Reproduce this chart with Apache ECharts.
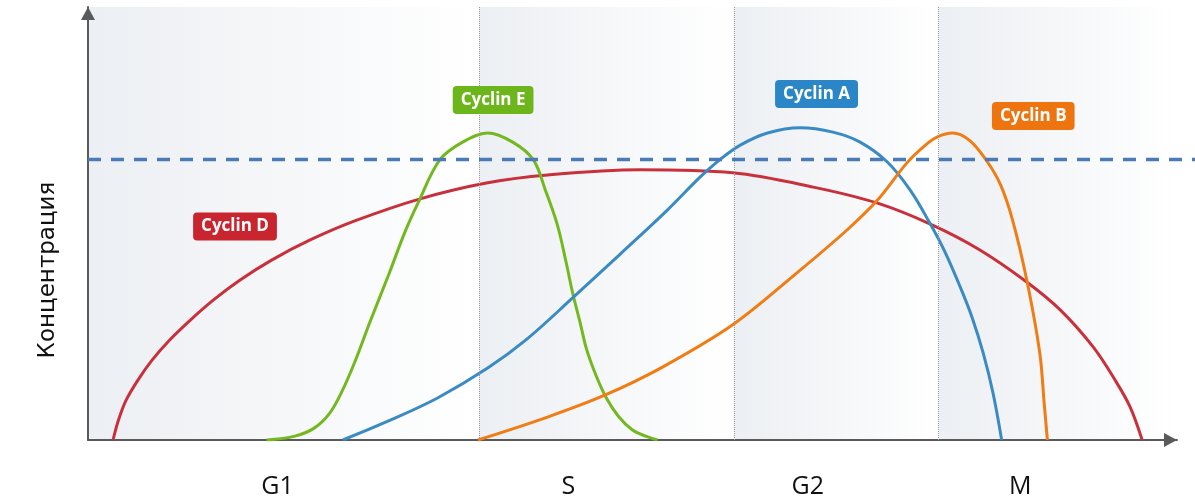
<!DOCTYPE html>
<html><head><meta charset="utf-8">
<script src="https://cdn.jsdelivr.net/npm/echarts@6/dist/echarts.min.js"></script>
<style>html,body{margin:0;padding:0;background:#fff}#c{width:1195px;height:501px}</style>
</head><body><div id="c"></div>
<script>
// Cell-cycle phases (x in % of cycle), label positions
const phaseNames = ['G1', 'S', 'G2', 'M'];
const phaseLabelX = [17.4, 44.1, 66.1, 85.6];
const phaseBounds = [0, 35.9, 59.3, 78.1, 100];
const threshold = 64.8;

// Concentration curves [x, y]
const cyclinD = [[2.3,0],[2.8,4.6],[3.5,9.2],[4.6,13.9],[5.9,18.5],[7.5,23.1],[9.4,27.7],[11.5,32.3],[14.0,37.0],[16.9,41.6],[20.4,46.2],[24.5,50.6],[30.5,55.7],[36.7,59.4],[42.2,61.2],[50.7,62.4],[59.2,61.7],[66.6,58.4],[72.5,54.7],[77.5,49.7],[81.9,43.9],[86.2,36.5],[89.3,30.0],[92.3,21.5],[94.3,13.9],[95.7,7.6],[96.8,0]];
const cyclinE = [[16.4,0],[19.0,0.9],[20.8,2.8],[22.2,6.2],[23.3,11.1],[24.5,18.0],[25.9,27.3],[27.6,38.1],[29.1,48.0],[30.3,54.7],[32.3,64.7],[34.4,68.8],[36.7,70.9],[39.0,68.8],[40.9,64.7],[42.0,57.7],[43.1,49.7],[43.9,41.1],[44.5,34.0],[45.2,27.0],[45.8,20.8],[46.7,14.6],[47.6,9.7],[48.7,5.5],[50.0,2.3],[51.2,0.9],[52.3,0]];
const cyclinA = [[23.4,0],[27.6,4.4],[32.1,9.7],[36.7,16.6],[40.3,23.3],[44.5,32.8],[48.9,43.0],[53.2,53.1],[56.2,60.7],[58.0,64.7],[59.9,68.1],[62.4,70.9],[65.4,72.1],[68.4,71.1],[70.9,68.8],[73.4,64.2],[75.5,57.7],[77.3,50.1],[78.7,43.4],[80.1,35.3],[81.2,28.2],[82.2,20.1],[83.1,10.9],[83.9,0]];
const cyclinB = [[35.8,0],[42.2,5.3],[47.5,10.4],[52.8,16.9],[59.2,26.6],[65.1,38.6],[69.7,48.5],[72.5,55.4],[75.2,64.0],[76.9,68.1],[78.0,70.0],[79.4,70.9],[81.0,69.1],[82.6,64.2],[83.8,58.9],[84.9,50.8],[86.2,37.0],[87.4,20.1],[87.8,8.6],[88.1,0]];

const seriesNames = ['Cyclin D', 'Cyclin E', 'Cyclin A', 'Cyclin B'];
const badgePos = [[13.5,49.3],[37.2,78.5],[66.9,79.9],[86.8,74.8]];
const yAxisTitle = 'Концентрация';

const lineColors = ['#c8313c', '#74b81f', '#3a8ac4', '#f07c14'];
const badgeColors = ['#c9252f', '#6cb61c', '#2a86c6', '#ee7410'];
const curves = [cyclinD, cyclinE, cyclinA, cyclinB];

const chart = echarts.init(document.getElementById('c'));

const regionAreas = [];
for (let i = 0; i < phaseNames.length; i++) {
  regionAreas.push([
    { xAxis: phaseBounds[i], itemStyle: { color: new echarts.graphic.LinearGradient(0, 0, 1, 0, [
      { offset: 0, color: '#eceff3' }, { offset: 1, color: '#ffffff' }]) } },
    { xAxis: phaseBounds[i + 1] }
  ]);
}

const series = curves.map((d, i) => {
  const s = {
    name: seriesNames[i], type: 'line', data: d, smooth: 0.35, symbol: 'none',
    xAxisIndex: 0, yAxisIndex: 0, z: 3,
    lineStyle: { color: lineColors[i], width: 3 },
    markPoint: {
      symbol: 'rect', symbolSize: 0, silent: true,
      data: [{ coord: badgePos[i], value: seriesNames[i] }],
      label: {
        show: true, position: 'inside', formatter: seriesNames[i],
        color: '#fff', fontFamily: 'Open Sans', fontWeight: 'bold', fontSize: 17,
        lineHeight: 20, backgroundColor: badgeColors[i], borderRadius: 4, padding: [4, 8]
      }
    }
  };
  if (i === 0) {
    s.markArea = { silent: true, data: regionAreas, z: 0 };
    s.markLine = {
      silent: true, symbol: 'none', label: { show: false },
      lineStyle: { color: '#9a9a9a', type: 'dotted', width: 1 },
      data: phaseBounds.slice(1, 4).map(v => ({ xAxis: v }))
    };
  }
  return s;
});

series.push({
  type: 'line', xAxisIndex: 1, yAxisIndex: 1, symbol: 'none', z: 5, silent: true,
  data: [[0, threshold], [1, threshold]],
  lineStyle: { color: '#4a7bb7', width: 3.5, type: [13, 10] }
});

chart.setOption({
  animation: false,
  backgroundColor: '#ffffff',
  grid: [
    { left: 88, right: 18, top: 7, bottom: 61 },
    { left: 88, right: 0, top: 7, bottom: 61 }
  ],
  xAxis: [{
    type: 'value', min: 0, max: 100, gridIndex: 0,
    splitLine: { show: false }, axisTick: { show: false },
    axisLine: { lineStyle: { color: '#5a5a5a', width: 2 }, symbol: ['none', 'triangle'], symbolSize: [14, 13], symbolOffset: [0, -6.5] },
    axisLabel: {
      customValues: phaseLabelX, margin: 34,
      formatter: v => phaseNames[phaseLabelX.indexOf(v)] || '',
      fontFamily: 'Open Sans', fontSize: 25, color: '#111'
    }
  }, {
    type: 'value', min: 0, max: 1, gridIndex: 1, show: false
  }],
  yAxis: [{
    type: 'value', min: 0, max: 100, gridIndex: 0,
    splitLine: { show: false }, axisTick: { show: false }, axisLabel: { show: false },
    axisLine: { show: true, lineStyle: { color: '#5a5a5a', width: 2 }, symbol: ['none', 'triangle'], symbolSize: [14, 13], symbolOffset: [0, -6.5] }
  }, {
    type: 'value', min: 0, max: 100, gridIndex: 1, show: false
  }],
  graphic: [{
    type: 'text', x: 48, y: 270, rotation: Math.PI / 2,
    style: { text: yAxisTitle, fontFamily: 'DejaVu Sans', fontSize: 23, fill: '#111', textAlign: 'center', textVerticalAlign: 'middle' }
  }],
  series: series
});
</script>
</body></html>
